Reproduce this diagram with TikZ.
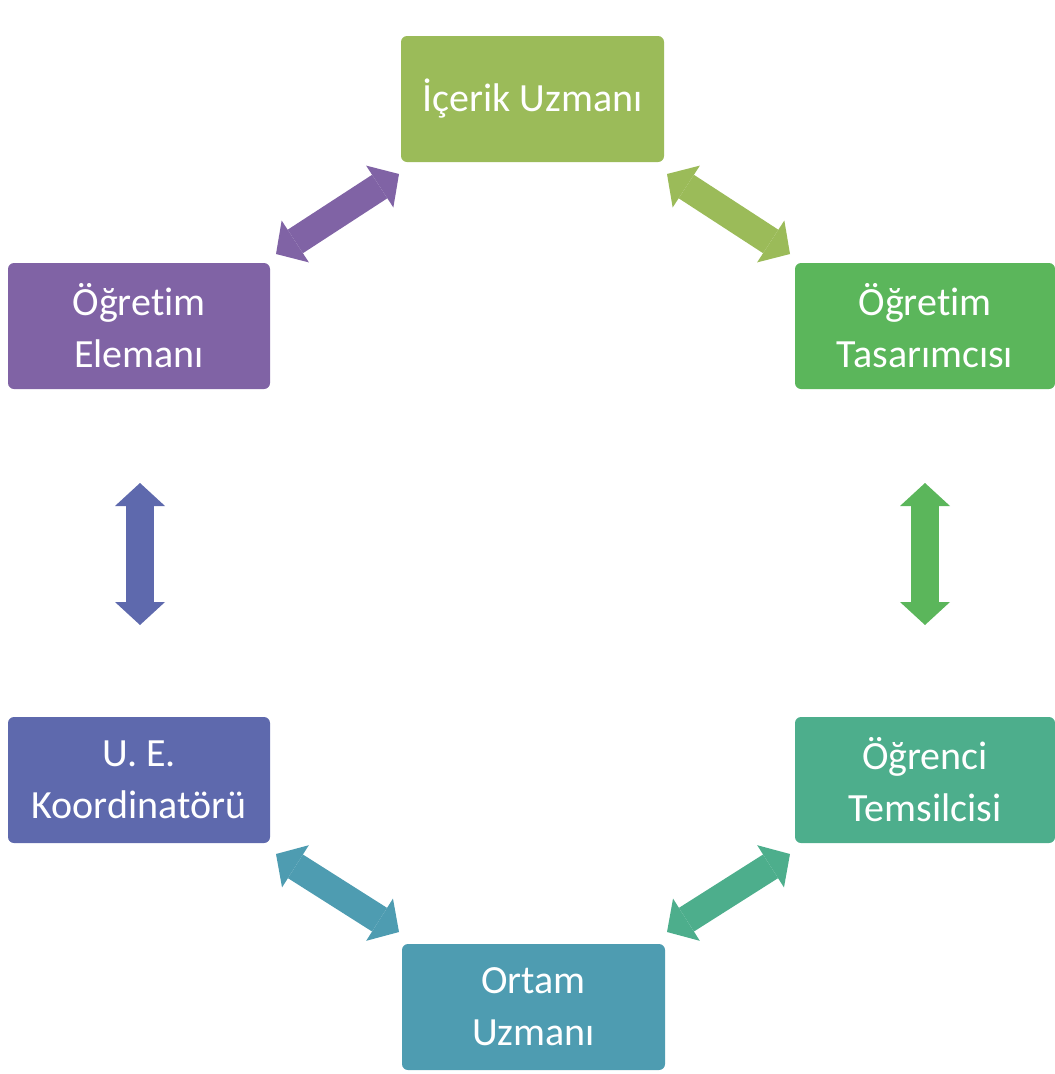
\documentclass[tikz,border=0pt]{standalone}
\usepackage{fontspec}
\setmainfont[Ligatures=NoCommon]{Carlito}
\usetikzlibrary{arrows.meta}
\definecolor{cIcerik}{HTML}{9BBB59}
\definecolor{cTasarim}{HTML}{5BB65B}
\definecolor{cOgrenci}{HTML}{4DAE8C}
\definecolor{cOrtam}{HTML}{4E9CB1}
\definecolor{cKoord}{HTML}{5E69AD}
\definecolor{cEleman}{HTML}{8063A5}
\newcommand\myOgretim{Öğret\kern0pt im}
\tikzset{
  box/.style={rectangle, rounded corners=6pt, minimum width=263pt, minimum height=126pt,
    inner sep=0pt, align=center, text=white, font=\fontsize{40}{52}\selectfont},
  dbl/.style={line width=28pt, {Triangle[width=50pt,length=23pt,line width=0pt]}-{Triangle[width=50pt,length=23pt,line width=0pt]}}
}
\begin{document}
\begin{tikzpicture}[x=1pt,y=-1pt]
\useasboundingbox (0,0) rectangle (1055,1074);
\node[box, fill=cIcerik] (icerik) at (532.5,99) {İçerik Uzmanı};
\node[box, fill=cTasarim, minimum width=260pt] (tasarim) at (925,326) {\myOgretim\\Tasarımcısı};
\node[box, fill=cOgrenci, minimum width=260pt] (ogrenci) at (925,780) {Öğrenci\\Temsilcisi};
\node[box, fill=cOrtam] (ortam) at (533.5,1007) {Ortam\\Uzmanı};
\node[box, fill=cKoord, minimum width=262pt] (koord) at (139,780) {U. E.\\Koordinatörü};
\node[box, fill=cEleman, minimum width=262pt] (eleman) at (139,326) {\myOgretim\\Elemanı};
% arrow end points
\coordinate (a1) at (276,254); \coordinate (a2) at (399,174);
\coordinate (b1) at (667,174); \coordinate (b2) at (790,254);
\coordinate (c1) at (925,483); \coordinate (c2) at (925,625);
\coordinate (d1) at (790,854); \coordinate (d2) at (667,932);
\coordinate (e1) at (399,932); \coordinate (e2) at (276,854);
\coordinate (f1) at (140,625); \coordinate (f2) at (140,483);
\draw[dbl, cEleman] (a1) -- (a2);
\draw[dbl, cIcerik] (b1) -- (b2);
\draw[dbl, cTasarim] (c1) -- (c2);
\draw[dbl, cOgrenci] (d1) -- (d2);
\draw[dbl, cOrtam] (e1) -- (e2);
\draw[dbl, cKoord] (f1) -- (f2);
\end{tikzpicture}
\end{document}
